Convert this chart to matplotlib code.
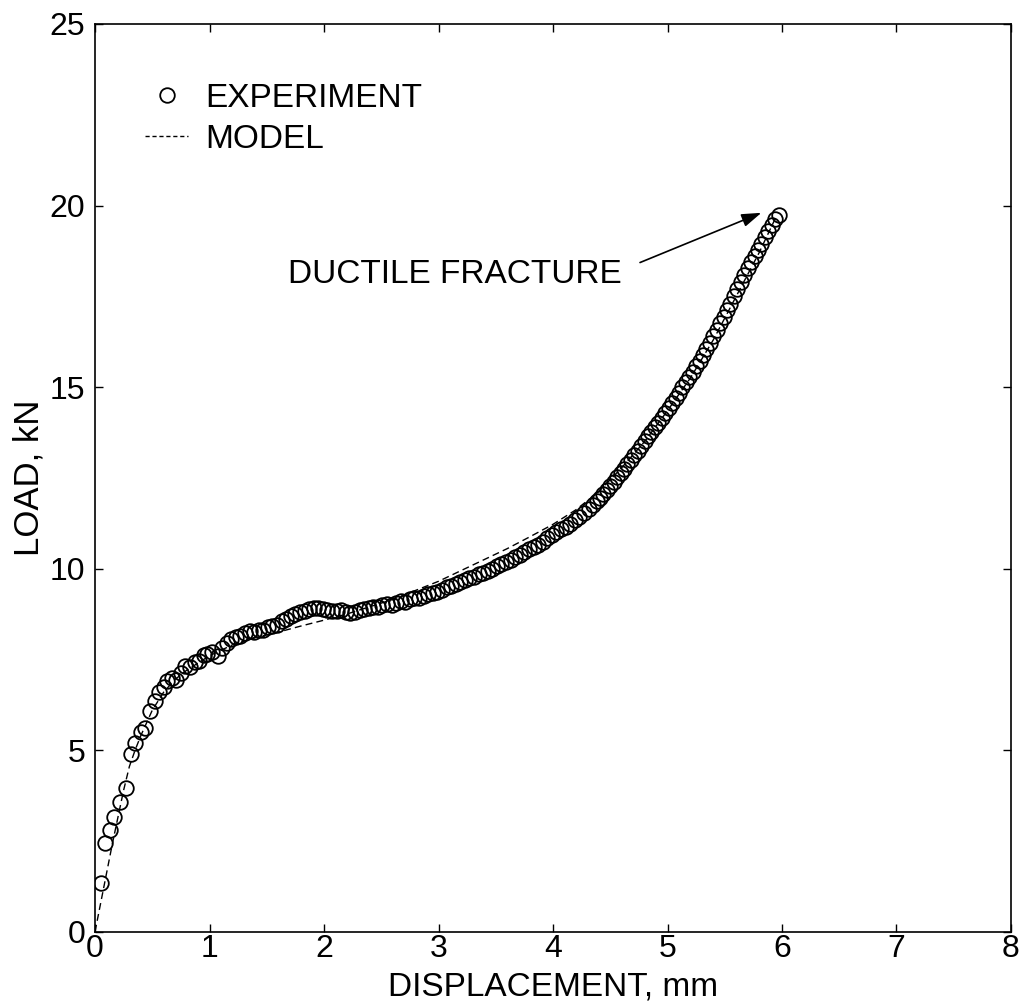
import matplotlib
matplotlib.use("Agg")
import matplotlib.pyplot as plt
from matplotlib.lines import Line2D

plt.rcParams["font.family"] = ["Liberation Sans", "DejaVu Sans"]

# measured load-displacement record
exp_disp = [
    0.05, 0.09, 0.13, 0.17, 0.22, 0.27, 0.31, 0.35, 0.40, 0.44, 0.48, 0.52,
    0.56, 0.60, 0.63, 0.67, 0.71, 0.75, 0.79, 0.83, 0.87, 0.91, 0.95, 0.98,
    1.02, 1.07, 1.11, 1.15, 1.19, 1.23, 1.27, 1.31, 1.35, 1.39, 1.43, 1.47,
    1.51, 1.55, 1.59, 1.63, 1.67, 1.71, 1.75, 1.79, 1.83, 1.87, 1.91, 1.95,
    1.99, 2.03, 2.07, 2.11, 2.15, 2.19, 2.23, 2.27, 2.31, 2.35, 2.39, 2.43,
    2.47, 2.51, 2.55, 2.59, 2.63, 2.67, 2.71, 2.75, 2.79, 2.83, 2.87, 2.91,
    2.95, 2.99, 3.03, 3.07, 3.11, 3.15, 3.19, 3.23, 3.27, 3.31, 3.35, 3.39,
    3.43, 3.47, 3.51, 3.55, 3.59, 3.63, 3.67, 3.71, 3.75, 3.79, 3.83, 3.87,
    3.91, 3.95, 3.99, 4.03, 4.07, 4.11, 4.15, 4.19, 4.23, 4.27, 4.31, 4.35,
    4.38, 4.41, 4.44, 4.47, 4.50, 4.53, 4.56, 4.59, 4.62, 4.65, 4.68, 4.71,
    4.74, 4.77, 4.80, 4.83, 4.86, 4.89, 4.92, 4.95, 4.98, 5.01, 5.04, 5.07,
    5.10, 5.13, 5.16, 5.19, 5.22, 5.25, 5.28, 5.31, 5.34, 5.37, 5.40, 5.43,
    5.46, 5.49, 5.52, 5.55, 5.58, 5.61, 5.64, 5.67, 5.70, 5.73, 5.76, 5.79,
    5.82, 5.85, 5.88, 5.91, 5.94, 5.97,
]
exp_load = [
    1.34, 2.45, 2.80, 3.17, 3.58, 3.96, 4.90, 5.20, 5.50, 5.60, 6.07, 6.36,
    6.60, 6.75, 6.90, 6.98, 6.94, 7.12, 7.31, 7.30, 7.42, 7.45, 7.62, 7.66,
    7.70, 7.58, 7.80, 7.96, 8.05, 8.13, 8.15, 8.22, 8.27, 8.25, 8.30, 8.32,
    8.38, 8.43, 8.46, 8.55, 8.62, 8.69, 8.75, 8.80, 8.84, 8.88, 8.92, 8.92,
    8.88, 8.85, 8.82, 8.84, 8.85, 8.80, 8.78, 8.80, 8.86, 8.90, 8.92, 8.95,
    8.94, 9.00, 9.02, 9.00, 9.05, 9.10, 9.08, 9.15, 9.18, 9.20, 9.25, 9.30,
    9.33, 9.36, 9.42, 9.48, 9.52, 9.58, 9.64, 9.68, 9.74, 9.78, 9.84, 9.88,
    9.94, 10.00, 10.06, 10.12, 10.18, 10.25, 10.32, 10.38, 10.46, 10.53, 10.60, 10.66,
    10.74, 10.83, 10.92, 11.00, 11.08, 11.15, 11.24, 11.33, 11.43, 11.53, 11.64, 11.75,
    11.85, 11.95, 12.06, 12.17, 12.28, 12.39, 12.51, 12.63, 12.75, 12.87, 12.99, 13.12,
    13.25, 13.38, 13.51, 13.64, 13.77, 13.89, 14.02, 14.15, 14.29, 14.43, 14.57, 14.71,
    14.85, 14.99, 15.13, 15.27, 15.42, 15.57, 15.72, 15.88, 16.05, 16.22, 16.40, 16.58,
    16.76, 16.94, 17.12, 17.30, 17.50, 17.70, 17.90, 18.10, 18.28, 18.45, 18.62, 18.78,
    18.95, 19.12, 19.30, 19.46, 19.62, 19.73,
]

# model prediction
model_disp = [
    0.0, 0.05, 0.10, 0.15, 0.20, 0.25, 0.30, 0.35, 0.40, 0.50, 0.60, 0.70,
    0.80, 1.00, 1.20, 1.40, 1.60, 1.80, 2.00, 2.20, 2.40, 2.60, 2.80, 3.00,
    3.20, 3.40, 3.60, 3.80, 4.00, 4.20, 4.40, 4.60, 4.80, 5.00, 5.20, 5.40,
    5.60, 5.80, 5.95,
]
model_load = [
    0.0, 0.80, 1.60, 2.40, 3.15, 3.90, 4.55, 5.00, 5.40, 6.10, 6.60, 6.95,
    7.20, 7.60, 7.90, 8.10, 8.25, 8.42, 8.58, 8.75, 8.95, 9.15, 9.40, 9.65,
    9.95, 10.25, 10.55, 10.88, 11.22, 11.62, 12.12, 12.78, 13.50, 14.35, 15.25, 16.30,
    17.50, 18.70, 19.70,
]

x_ticks = [0, 1, 2, 3, 4, 5, 6, 7, 8]
y_ticks = [0, 5, 10, 15, 20, 25]

fig = plt.figure(figsize=(10.24, 10.08), dpi=100)
ax = fig.add_axes([0.0928, 0.0757, 0.8945, 0.9005])

ax.plot(model_disp, model_load, color="black", lw=1.0, dashes=(5, 3))
ax.plot(exp_disp, exp_load, "o", mfc="none", mec="black", ms=10.5, mew=1.3)

ax.set_xlim(0, 8)
ax.set_ylim(0, 25)
ax.set_xticks(x_ticks)
ax.set_yticks(y_ticks)
ax.tick_params(direction="in", top=True, right=True, length=6, width=1.0,
               labelsize=23)
ax.tick_params(axis="x", pad=2)
ax.tick_params(axis="y", pad=7)
for sp in ax.spines.values():
    sp.set_linewidth(1.2)

ax.set_xlabel("DISPLACEMENT, mm", fontsize=24, labelpad=5)
ax.set_ylabel("LOAD, kN", fontsize=25, labelpad=3)

handles = [
    Line2D([], [], ls="none", marker="o", mfc="none", mec="black", ms=10.5, mew=1.3),
    Line2D([], [], color="black", lw=1.0, dashes=(3, 2)),
]
ax.legend(handles, ["EXPERIMENT", "MODEL"], loc="upper left",
          bbox_to_anchor=(0.04, 0.95), frameon=False, fontsize=24,
          handlelength=1.3, handletextpad=0.5, labelspacing=0.3,
          borderaxespad=0)

ax.text(4.60, 18.1, "DUCTILE FRACTURE", fontsize=24, ha="right", va="center")
ax.annotate("", xy=(5.82, 19.8), xytext=(4.76, 18.43),
            arrowprops=dict(arrowstyle="-|>,head_length=0.6,head_width=0.2",
                            color="black", lw=1.2, mutation_scale=20,
                            shrinkA=0, shrinkB=0))

fig.savefig("out.png", dpi=100)
